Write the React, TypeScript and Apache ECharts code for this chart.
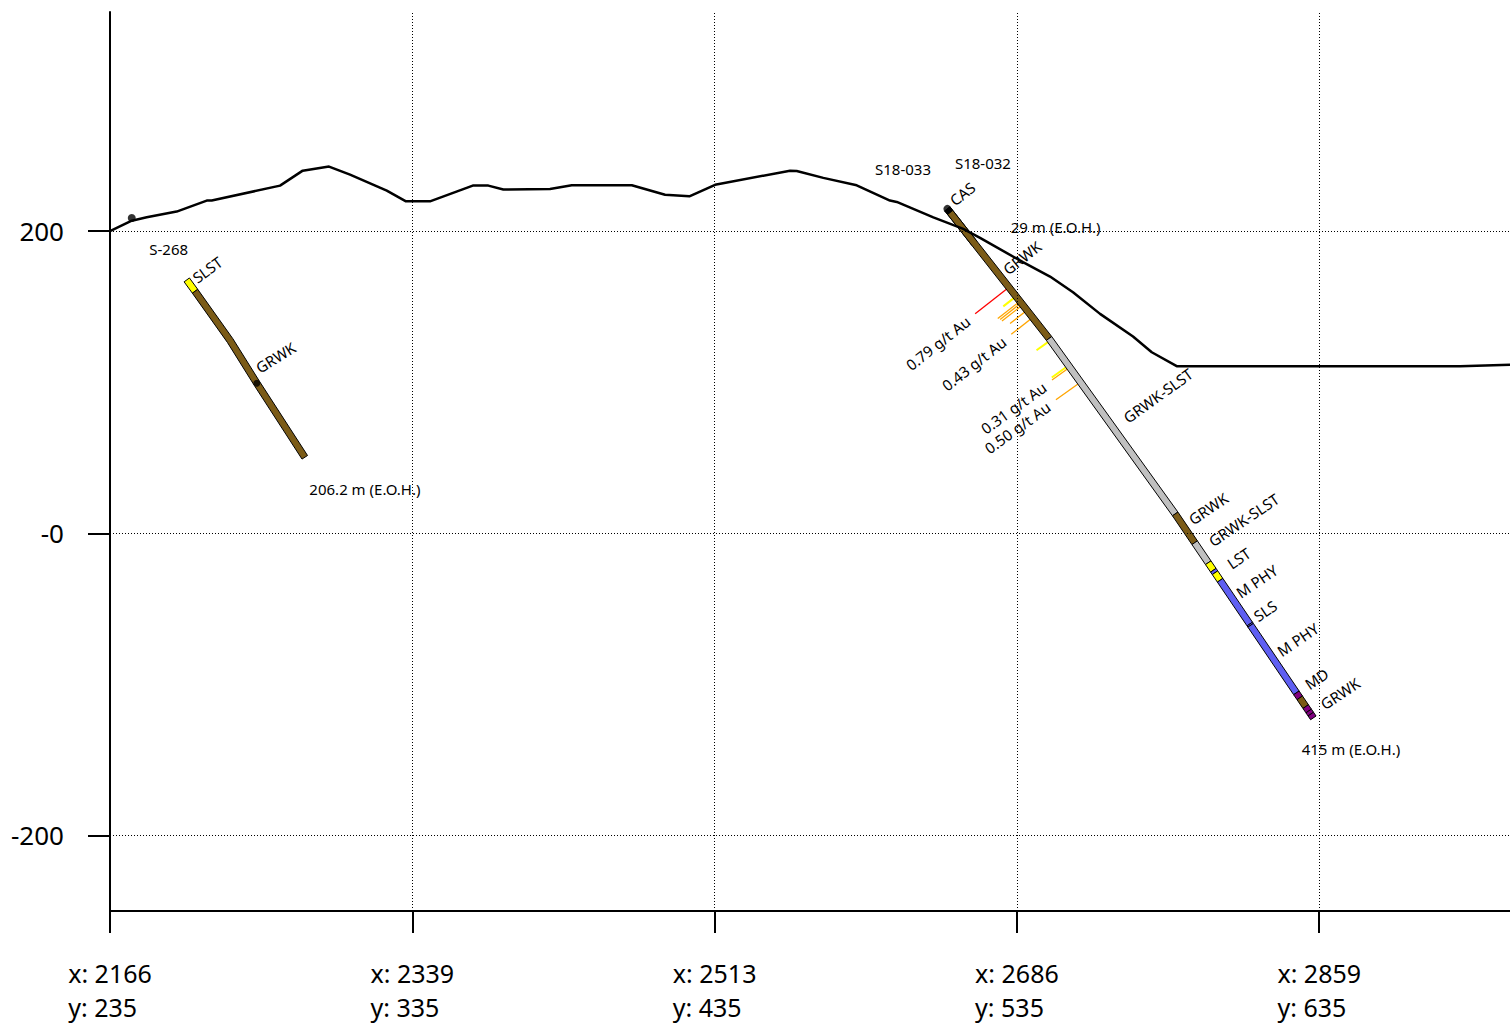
import { useEffect, useRef } from 'react';
import * as echarts from 'echarts';

const FONT = '"Noto Sans", "DejaVu Sans", sans-serif';

// Section frame: distance along the section line (m) and elevation (m)
const X_MIN = 0;
const X_MAX = 926.2;
const X_TICKS = [0, 200, 400, 600, 800];
const X_TICK_EASTING = ['2166', '2339', '2513', '2686', '2859'];
const X_TICK_NORTHING = ['235', '335', '435', '535', '635'];
const Y_MIN = -250;
const Y_MAX = 345;
const Y_TICKS = [-200, 0, 200];
const Y_TICK_LABELS = ['-200', '-0', '200'];

// Topographic surface along the section
const TOPO_X = [0, 14.4, 24.3, 44.1, 64.0, 67.3, 112.5, 127.5, 144.9, 158.8, 183.1, 195.8, 211.7, 240.0, 250.3, 260.2, 291.1, 305.5, 345.2, 367.2, 383.3, 400.3, 449.9, 454.3, 471.9, 494.0, 516.0, 520.5, 544.7, 564.5, 575.6, 604.0, 621.9, 637.1, 655.0, 676.8, 689.2, 705.7, 893.2, 926.2];
const TOPO_Z = [200.0, 206.9, 209.1, 212.9, 220.2, 220.2, 230.1, 240.0, 242.7, 237.4, 226.8, 219.7, 219.7, 230.1, 230.1, 227.5, 227.9, 230.3, 230.3, 224.0, 223.0, 230.6, 240.0, 239.8, 235.2, 230.3, 220.2, 219.3, 209.1, 201.5, 195.5, 179.4, 169.9, 159.5, 145.2, 130.2, 119.8, 110.6, 110.6, 111.5];

// Hole S-268 (oblique to the section, projected)
const S268_COLLAR = [14.4, 208.7];
const S268_AZ_OFFSET = 29.3;
const S268_SURVEY_DEPTH = [0, 58.5, 68.3, 110.4, 145.2];
const S268_SURVEY_DIP = [44.5, 50.1, 50.8, 54.4, 53.4];
const S268_FROM = [58.5, 68.3];
const S268_TO = [68.3, 206.2];
const S268_LITH = ['SLST', 'GRWK'];
const S268_PIERCE_DEPTH = 145.2;
const S268_TAG_TEXT = ['SLST', 'GRWK'];
const S268_TAG_DEPTH = [61.1, 136.9];
const S268_TAG_OFFSET = [4.2, 5.2];

// Hole S18-033
const S18033_COLLAR = [554.0, 214.7];
const S18033_SURVEY_DEPTH = [0];
const S18033_SURVEY_DIP = [51.9];
const S18033_FROM = [0, 3];
const S18033_TO = [3, 29];
const S18033_LITH = ['CAS', 'GRWK'];

// Hole S18-032
const S18032_COLLAR = [554.0, 214.7];
const S18032_SURVEY_DEPTH = [0, 109, 251.9];
const S18032_SURVEY_DIP = [51.9, 54.3, 55.9];
const S18032_FROM = [0, 3, 109, 252, 275, 291, 297, 299, 305, 340, 341, 395, 399, 406, 409.5, 412];
const S18032_TO = [3, 109, 252, 275, 291, 297, 299, 305, 340, 341, 395, 399, 406, 409.5, 412, 415];
const S18032_LITH = ['CAS', 'GRWK', 'GRWK-SLST', 'GRWK', 'GRWK-SLST', 'LST', 'M PHY', 'LST', 'M PHY', 'SLS', 'M PHY', 'MD', 'GRWK', 'MD', 'MD', 'MD'];
const S18032_TAG_TEXT = ['CAS', 'GRWK', 'GRWK-SLST', 'GRWK', 'GRWK-SLST', 'LST', 'M PHY', 'SLS', 'M PHY', 'MD', 'GRWK'];
const S18032_TAG_DEPTH = [-1.8, 55.8, 181.7, 261.3, 280.6, 299.8, 319.1, 338.4, 366.3, 394.7, 411.5];
const S18032_TAG_OFFSET = [5.0, 4.5, 9.7, 5.7, 8.6, 10.3, 4.5, 5.4, 5.3, 8.1, 9.3];
const S18032_ASSAY_DEPTH = [66.0, 73.6, 77.7, 79.1, 80.7, 85.3, 91.4, 110.5, 131.0, 132.5, 144.6];
const S18032_ASSAY_AU = [0.79, 0.18, 0.45, 0.42, 0.41, 0.30, 0.43, 0.20, 0.28, 0.31, 0.50];
const S18032_ASSAY_LABELLED = [1, 0, 0, 0, 0, 0, 1, 0, 0, 1, 1];

// Free-standing annotations (hole names, end-of-hole depths)
const NOTE_X = [26.0, 506.1, 559.0, 131.9, 595.9, 788.4];
const NOTE_Y = [188.2, 240.9, 244.9, 29.4, 203.0, -142.6];

const LITH_COLOR: Record<string, string> = {
  CAS: '#000000',
  GRWK: '#7b5b17',
  'GRWK-SLST': '#c0c0c0',
  SLST: '#ffff00',
  LST: '#ffff00',
  'M PHY': '#5f5ff2',
  SLS: '#5f5ff2',
  MD: '#800080',
};

const HALF_WIDTH = 3.3; // px, half thickness of a hole trace
const TICK_BASE = 5.5; // m, assay bar base length
const TICK_PER_GRAM = 29; // m of bar per g/t Au
const LABEL_GAP = 6; // m between bar end and its label

type Hole = { collar: number[]; azOffset: number; surveyDepth: number[]; surveyDip: number[] };

const S268: Hole = { collar: S268_COLLAR, azOffset: S268_AZ_OFFSET, surveyDepth: S268_SURVEY_DEPTH, surveyDip: S268_SURVEY_DIP };
const S18033: Hole = { collar: S18033_COLLAR, azOffset: 0, surveyDepth: S18033_SURVEY_DEPTH, surveyDip: S18033_SURVEY_DIP };
const S18032: Hole = { collar: S18032_COLLAR, azOffset: 0, surveyDepth: S18032_SURVEY_DEPTH, surveyDip: S18032_SURVEY_DIP };

const toRad = (d: number) => (d * Math.PI) / 180;

function segIndex(h: Hole, depth: number) {
  let i = 0;
  while (i + 1 < h.surveyDepth.length && depth >= h.surveyDepth[i + 1]) i++;
  return i;
}

// unit direction of the trace (section coordinates) at a given depth
function holeDir(h: Hole, depth: number): number[] {
  const dip = toRad(h.surveyDip[segIndex(h, depth)]);
  const dx = Math.cos(dip) * Math.cos(toRad(h.azOffset));
  const dy = -Math.sin(dip);
  const n = Math.hypot(dx, dy);
  return [dx / n, dy / n];
}

// desurveyed position (section coordinates) at a given down-hole depth
function holePoint(h: Hole, depth: number): number[] {
  const k = Math.cos(toRad(h.azOffset));
  let x = h.collar[0];
  let y = h.collar[1];
  if (depth <= 0) {
    const dip = toRad(h.surveyDip[0]);
    return [x + depth * Math.cos(dip) * k, y - depth * Math.sin(dip)];
  }
  for (let i = 0; i < h.surveyDepth.length; i++) {
    const start = h.surveyDepth[i];
    const end = i + 1 < h.surveyDepth.length ? h.surveyDepth[i + 1] : Infinity;
    const dip = toRad(h.surveyDip[i]);
    const step = Math.min(depth, end) - start;
    x += step * Math.cos(dip) * k;
    y -= step * Math.sin(dip);
    if (depth <= end) break;
  }
  return [x, y];
}

function gradeColor(g: number) {
  if (g >= 0.7) return '#ff0000';
  if (g >= 0.3) return '#ffa500';
  return '#ffff00';
}

function textItem(api: any, pt: number[], rotation: number, text: string, align: string) {
  const c = api.coord(pt);
  return {
    type: 'text',
    x: c[0],
    y: c[1],
    rotation,
    style: {
      text,
      x: 0,
      y: 0,
      fill: '#000',
      font: `15px ${FONT}`,
      align,
      verticalAlign: 'middle',
      textAlign: align,
      textVerticalAlign: 'middle',
    },
  };
}

function lithSeries(h: Hole, from: number[], to: number[], lith: string[], z: number) {
  return {
    type: 'custom',
    coordinateSystem: 'cartesian2d',
    z,
    silent: true,
    data: from.map((f, i) => [f, to[i]]),
    renderItem: (params: any, api: any) => {
      const i = params.dataIndex;
      const a = from[i];
      const b = to[i];
      const depths = [a, ...h.surveyDepth.filter((d) => d > a && d < b), b];
      const pts = depths.map((d) => api.coord(holePoint(h, d)));
      const left: number[][] = [];
      const right: number[][] = [];
      pts.forEach((p: number[], j: number) => {
        const q0 = pts[Math.max(0, j - 1)];
        const q1 = pts[Math.min(pts.length - 1, j + 1)];
        const tx = q1[0] - q0[0];
        const ty = q1[1] - q0[1];
        const n = Math.hypot(tx, ty) || 1;
        const nx = (-ty / n) * HALF_WIDTH;
        const ny = (tx / n) * HALF_WIDTH;
        left.push([p[0] + nx, p[1] + ny]);
        right.push([p[0] - nx, p[1] - ny]);
      });
      return {
        type: 'polygon',
        shape: { points: left.concat(right.reverse()) },
        style: { fill: LITH_COLOR[lith[i]], stroke: '#000', lineWidth: 1 },
      };
    },
  };
}

function assaySeries(h: Hole, depth: number[], au: number[], z: number) {
  return {
    type: 'custom',
    coordinateSystem: 'cartesian2d',
    z,
    silent: true,
    data: depth.map((d, i) => [d, au[i]]),
    renderItem: (params: any, api: any) => {
      const i = params.dataIndex;
      const p = holePoint(h, depth[i]);
      const u = holeDir(h, depth[i]);
      const len = TICK_BASE + TICK_PER_GRAM * au[i];
      const e = [p[0] + u[1] * len, p[1] - u[0] * len];
      const a = api.coord(p);
      const b = api.coord(e);
      return {
        type: 'line',
        shape: { x1: a[0], y1: a[1], x2: b[0], y2: b[1] },
        style: { stroke: gradeColor(au[i]), lineWidth: au[i] < 0.3 ? 2 : 1.3 },
      };
    },
  };
}

// text tags placed beside a hole: positive offset = right of the trace, negative = left
function tagSeries(h: Hole, depth: number[], offset: number[], text: string[], z: number) {
  return {
    type: 'custom',
    coordinateSystem: 'cartesian2d',
    z,
    silent: true,
    data: depth.map((d, i) => [d, offset[i]]),
    renderItem: (params: any, api: any) => {
      const i = params.dataIndex;
      const p = holePoint(h, depth[i]);
      const u = holeDir(h, depth[i]);
      const o = offset[i];
      const pt = [p[0] - u[1] * o, p[1] + u[0] * o];
      const rot = Math.atan2(u[0], -u[1]);
      return textItem(api, pt, rot, text[i], o >= 0 ? 'left' : 'right');
    },
  };
}

function buildOption() {
  const eoh = (to: number[]) => `${to[to.length - 1]} m (E.O.H.)`;
  const noteText = ['S-268', 'S18-033', 'S18-032', eoh(S268_TO), eoh(S18033_TO), eoh(S18032_TO)];

  const assayLabelDepth: number[] = [];
  const assayLabelOffset: number[] = [];
  const assayLabelText: string[] = [];
  S18032_ASSAY_DEPTH.forEach((d, i) => {
    if (!S18032_ASSAY_LABELLED[i]) return;
    assayLabelDepth.push(d);
    assayLabelOffset.push(-(TICK_BASE + TICK_PER_GRAM * S18032_ASSAY_AU[i] + LABEL_GAP));
    assayLabelText.push(`${S18032_ASSAY_AU[i].toFixed(2)} g/t Au`);
  });

  const axisLine = { show: true, onZero: false, lineStyle: { color: '#000', width: 2 } };

  return {
    animation: false,
    backgroundColor: '#fff',
    grid: { left: 110, right: 0, top: 12, bottom: 113 },
    xAxis: {
      type: 'value',
      min: X_MIN,
      max: X_MAX,
      axisLine,
      axisTick: { show: true, length: 22, customValues: X_TICKS, lineStyle: { color: '#000', width: 2 } },
      splitLine: { show: false },
      axisLabel: {
        customValues: X_TICKS,
        margin: 45,
        formatter: (v: number) => {
          const i = X_TICKS.indexOf(v);
          return i < 0 ? '' : `{a|x: ${X_TICK_EASTING[i]}}\n{a|y: ${X_TICK_NORTHING[i]}}`;
        },
        rich: { a: { fontSize: 25, fontFamily: FONT, color: '#000', lineHeight: 34, align: 'left' } },
      },
    },
    yAxis: {
      type: 'value',
      min: Y_MIN,
      max: Y_MAX,
      axisLine,
      axisTick: { show: true, length: 22, customValues: Y_TICKS, lineStyle: { color: '#000', width: 2 } },
      splitLine: { show: false },
      axisLabel: {
        customValues: Y_TICKS,
        margin: 46,
        fontSize: 26,
        fontFamily: FONT,
        color: '#000',
        formatter: (v: number) => {
          const i = Y_TICKS.indexOf(v);
          return i < 0 ? '' : Y_TICK_LABELS[i];
        },
      },
    },
    series: [
      {
        type: 'line',
        data: [],
        z: 1,
        silent: true,
        markLine: {
          silent: true,
          symbol: ['none', 'none'],
          label: { show: false },
          lineStyle: { color: '#000', type: [1, 2], width: 1 },
          data: [...Y_TICKS.map((v) => ({ yAxis: v })), ...X_TICKS.slice(1).map((v) => ({ xAxis: v }))],
        },
      },
      assaySeries(S18032, S18032_ASSAY_DEPTH, S18032_ASSAY_AU, 2),
      lithSeries(S268, S268_FROM, S268_TO, S268_LITH, 3),
      lithSeries(S18033, S18033_FROM, S18033_TO, S18033_LITH, 3),
      lithSeries(S18032, S18032_FROM, S18032_TO, S18032_LITH, 3),
      {
        type: 'line',
        data: TOPO_X.map((x, i) => [x, TOPO_Z[i]]),
        symbol: 'none',
        lineStyle: { color: '#000', width: 2.5 },
        z: 4,
        silent: true,
      },
      {
        type: 'scatter',
        data: [S268_COLLAR, S18032_COLLAR],
        symbolSize: 8,
        itemStyle: { color: '#000' },
        z: 5,
        silent: true,
      },
      {
        type: 'scatter',
        data: [holePoint(S268, S268_PIERCE_DEPTH)],
        symbolSize: 7,
        itemStyle: { color: '#000' },
        z: 5,
        silent: true,
      },
      tagSeries(S268, S268_TAG_DEPTH, S268_TAG_OFFSET, S268_TAG_TEXT, 6),
      tagSeries(S18032, S18032_TAG_DEPTH, S18032_TAG_OFFSET, S18032_TAG_TEXT, 6),
      tagSeries(S18032, assayLabelDepth, assayLabelOffset, assayLabelText, 6),
      {
        type: 'custom',
        coordinateSystem: 'cartesian2d',
        z: 6,
        silent: true,
        data: NOTE_X.map((x, i) => [x, NOTE_Y[i]]),
        renderItem: (params: any, api: any) =>
          textItem(api, [api.value(0), api.value(1)], 0, noteText[params.dataIndex], 'left'),
      },
    ],
  };
}

export default function App() {
  const ref = useRef<HTMLDivElement>(null);
  useEffect(() => {
    const chart = echarts.init(ref.current as HTMLDivElement, null, { renderer: 'svg' });
    chart.setOption(buildOption() as any);
    return () => chart.dispose();
  }, []);
  return (
    <div
      ref={ref}
      style={{ position: 'fixed', left: 0, top: 0, width: 1510, height: 1024, background: '#fff' }}
    />
  );
}
